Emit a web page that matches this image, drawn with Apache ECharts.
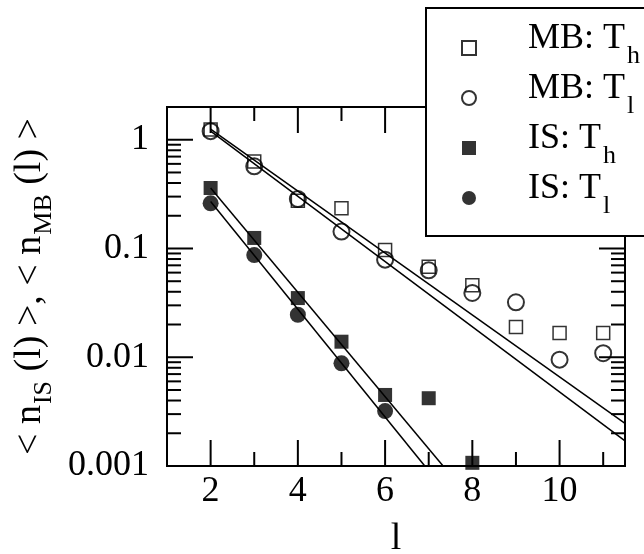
<!DOCTYPE html>
<html>
<head>
<meta charset="utf-8">
<script src="https://cdn.jsdelivr.net/npm/echarts@6/dist/echarts.min.js"></script>
<style>html,body{margin:0;padding:0;background:#fff}#c{width:644px;height:554px}</style>
</head>
<body>
<div id="c"></div>
<script>
// ---- data ----
const xMB = [2, 3, 4, 5, 6, 7, 8, 9, 10, 11];
const mbTh = [1.24, 0.63, 0.275, 0.235, 0.097, 0.068, 0.046, 0.019, 0.0167, 0.0167];
const mbTl = [1.2, 0.57, 0.285, 0.143, 0.079, 0.063, 0.039, 0.032, 0.0095, 0.0109];
const xISh = [2, 3, 4, 5, 6, 7, 8];
const isTh = [0.36, 0.125, 0.035, 0.0139, 0.0045, 0.0042, 0.00107];
const xISl = [2, 3, 4, 5, 6];
const isTl = [0.26, 0.087, 0.0246, 0.0088, 0.0032];
// fitted lines (endpoints)
const fitMBh = [[2, 1.25], [11.5, 0.00247]];
const fitMBl = [[2, 1.2], [11.5, 0.0017]];
const fitISh = [[2, 0.36], [7.33, 0.001]];
const fitISl = [[2, 0.27], [6.91, 0.001]];
// axes
const X_MIN = 1, X_MAX = 11.5;
const Y_MIN = 0.001, Y_MAX = 2;
const xTickValues = [2, 3, 4, 5, 6, 7, 8, 9, 10, 11];
const xMajor = [2, 4, 6, 8, 10];
const yDecades = [0.001, 0.01, 0.1, 1];
const yMinorMult = [2, 3, 4, 5, 6, 7, 8, 9];
const yTickLabels = {'0.001': '0.001', '0.01': '0.01', '0.1': '0.1', '1': '1'};
const seriesNames = ['MB: Th', 'MB: Tl', 'IS: Th', 'IS: Tl'];
const legendLabels = {
  'MB: Th': 'MB: T{s|h}',
  'MB: Tl': 'MB: T{s|l}',
  'IS: Th': 'IS: T{s|h}',
  'IS: Tl': 'IS: T{s|l}'
};

const FONT = 'Liberation Serif';
const zip = (xs, ys) => xs.map((x, i) => [x, ys[i]]);

const xTickData = xTickValues.map(v => [v, Y_MIN, xMajor.includes(v) ? 1 : 0]);
const yTickData = [];
yDecades.forEach(d => {
  yTickData.push([X_MIN, d, 1]);
  yMinorMult.forEach(m => { const v = +(m * d).toPrecision(3); if (v < Y_MAX) yTickData.push([X_MIN, v, 0]); });
});

const MAJ = 26, MIN = 14;
function lineEl(x1, y1, x2, y2) {
  return {type: 'line', shape: {x1, y1, x2, y2}, style: {stroke: '#000', lineWidth: 2}};
}
function renderXTick(params, api) {
  const v = api.value(0), len = api.value(2) ? MAJ : MIN;
  const b = api.coord([v, Y_MIN]), t = api.coord([v, Y_MAX]);
  return {type: 'group', children: [lineEl(b[0], b[1], b[0], b[1] - len), lineEl(t[0], t[1], t[0], t[1] + len)]};
}
function renderYTick(params, api) {
  const v = api.value(1), len = api.value(2) ? MAJ : MIN;
  const l = api.coord([X_MIN, v]), r = api.coord([X_MAX, v]);
  return {type: 'group', children: [lineEl(l[0], l[1], l[0] + len, l[1]), lineEl(r[0], r[1], r[0] - len, r[1])]};
}

const lineStyle = {color: '#000', width: 1.5};
const chart = echarts.init(document.getElementById('c'), null, {renderer: 'canvas'});
chart.setOption({
  animation: false,
  backgroundColor: '#fff',
  grid: {left: 167, right: 19, top: 107, bottom: 88, show: true, borderColor: '#000', borderWidth: 2,
    backgroundColor: 'transparent', containLabel: false, outerBoundsMode: 'none'},
  xAxis: {
    type: 'value', min: X_MIN, max: X_MAX, interval: 1,
    axisLine: {show: false}, axisTick: {show: false}, splitLine: {show: false},
    axisLabel: {
      margin: 8, fontSize: 36, fontFamily: FONT, color: '#000',
      formatter: v => xMajor.includes(v) ? String(v) : ''
    },
    name: 'l', nameLocation: 'middle', nameGap: 54,
    nameTextStyle: {fontSize: 38, fontFamily: FONT, color: '#000'}
  },
  yAxis: {
    type: 'log', logBase: 10, min: Y_MIN, max: Y_MAX,
    axisLine: {show: false}, axisTick: {show: false}, splitLine: {show: false}, minorTick: {show: false},
    axisLabel: {
      margin: 18, fontSize: 36, fontFamily: FONT, color: '#000',
      formatter: v => {
        const k = Object.keys(yTickLabels).find(s => Math.abs(Math.log10(v) - Math.log10(+s)) < 1e-6);
        return k ? yTickLabels[k] : '';
      }
    },
    name: '< n{s|IS} (l) >, < n{s|MB} (l) >', nameLocation: 'middle', nameGap: 110, nameRotate: 90,
    nameTextStyle: {
      fontSize: 38, fontFamily: FONT, color: '#000',
      rich: {s: {fontSize: 26, fontFamily: FONT, color: '#000', padding: [28, 0, 0, 1]}}
    }
  },
  legend: {
    data: seriesNames, orient: 'vertical', left: 461, top: 9, padding: 0,
    itemWidth: 14, itemHeight: 14, itemGap: -16, z: 20,
    formatter: name => legendLabels[name],
    textStyle: {
      fontSize: 36, fontFamily: FONT, color: '#000', lineHeight: 36, padding: [0, 0, 18, 47],
      rich: {s: {fontSize: 26, fontFamily: FONT, color: '#000', lineHeight: 26, padding: [34, 0, 0, 2]}}
    }
  },
  graphic: [{
    type: 'rect', left: 425, top: 7, z: 10,
    shape: {width: 280, height: 228},
    style: {fill: '#fff', stroke: '#000', lineWidth: 2}
  }],
  series: [
    {type: 'custom', name: 'xticks', data: xTickData, renderItem: renderXTick, encode: {x: 0, y: 1}, clip: false, silent: true, z: 3},
    {type: 'custom', name: 'yticks', data: yTickData, renderItem: renderYTick, encode: {x: 0, y: 1}, clip: false, silent: true, z: 3},
    {type: 'line', name: 'fitMBh', data: fitMBh, symbol: 'none', lineStyle, clip: true, z: 4},
    {type: 'line', name: 'fitMBl', data: fitMBl, symbol: 'none', lineStyle, clip: true, z: 4},
    {type: 'line', name: 'fitISh', data: fitISh, symbol: 'none', lineStyle, clip: true, z: 4},
    {type: 'line', name: 'fitISl', data: fitISl, symbol: 'none', lineStyle, clip: true, z: 4},
    {type: 'scatter', name: 'MB: Th', data: zip(xMB, mbTh), symbol: 'rect', symbolSize: 13,
      itemStyle: {color: 'rgba(0,0,0,0)', borderColor: '#000', borderWidth: 1.5}, z: 5},
    {type: 'scatter', name: 'MB: Tl', data: zip(xMB, mbTl), symbol: 'circle', symbolSize: 16,
      itemStyle: {color: 'rgba(0,0,0,0)', borderColor: '#000', borderWidth: 2}, z: 5},
    {type: 'scatter', name: 'IS: Th', data: zip(xISh, isTh), symbol: 'rect', symbolSize: 14,
      itemStyle: {color: '#000'}, z: 5},
    {type: 'scatter', name: 'IS: Tl', data: zip(xISl, isTl), symbol: 'circle', symbolSize: 16,
      itemStyle: {color: '#000'}, z: 5}
  ]
});
</script>
</body>
</html>
